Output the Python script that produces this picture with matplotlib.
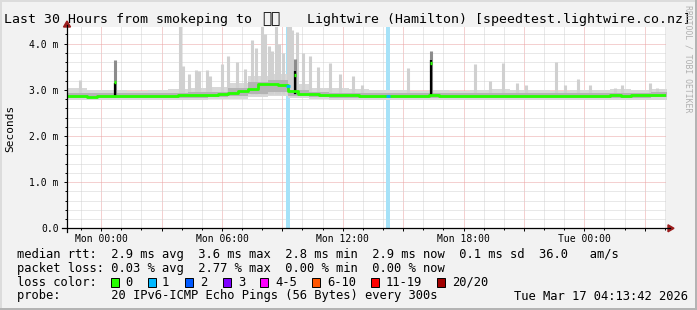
"""Smokeping style latency chart: last 30 hours to Lightwire (Hamilton)."""

import matplotlib

matplotlib.use("Agg")

import matplotlib.pyplot as plt
import numpy as np
from matplotlib.lines import Line2D
from matplotlib.patches import Polygon, Rectangle
from matplotlib.ticker import FixedLocator, MultipleLocator

W, H = 697, 310
MONO = "DejaVu Sans Mono"

# time axis in hours relative to Mon 00:00
T_START, T_END = -1.70, 28.06
MEDIAN_STEP = 0.5
SMOKE_STEP = 1.0

# median rtt (ms), one value per half hour from T_START
median_ms = [
    2.86, 2.86, 2.85, 2.86, 2.86, 2.87, 2.87, 2.86, 2.87, 2.87,
    2.87, 2.88, 2.88, 2.89, 2.89, 2.91, 2.93, 2.98, 3.02, 3.12,
    3.13, 3.11, 2.97, 2.91, 2.90, 2.89, 2.89, 2.88, 2.88, 2.87,
    2.87, 2.87, 2.87, 2.86, 2.87, 2.87, 2.88, 2.87, 2.87, 2.87,
    2.86, 2.87, 2.87, 2.87, 2.86, 2.86, 2.87, 2.86, 2.86, 2.87,
    2.86, 2.87, 2.87, 2.87, 2.88, 2.87, 2.88, 2.88, 2.88, 2.89,
    2.89,
]

# smoke envelope (ms), one value per hour from T_START
smoke_lo = [
    2.79, 2.79, 2.79, 2.79, 2.79, 2.79, 2.79, 2.80, 2.81, 2.84,
    2.86, 2.82, 2.80, 2.79, 2.79, 2.79, 2.79, 2.79, 2.79, 2.79,
    2.79, 2.79, 2.79, 2.79, 2.79, 2.79, 2.79, 2.79, 2.79, 2.79, 2.79,
]
smoke_hi = [
    3.03, 3.00, 3.00, 2.98, 3.00, 3.02, 3.05, 3.06, 3.15, 3.30,
    3.35, 3.12, 3.05, 3.05, 3.02, 3.00, 3.00, 2.98, 3.00, 2.98,
    3.00, 3.02, 3.00, 3.00, 2.98, 3.00, 3.00, 3.02, 3.00, 3.02, 3.02,
]
core_lo = [
    2.82, 2.82, 2.82, 2.83, 2.83, 2.83, 2.83, 2.84, 2.86, 2.90,
    2.95, 2.86, 2.84, 2.83, 2.83, 2.83, 2.82, 2.83, 2.83, 2.82,
    2.82, 2.83, 2.82, 2.82, 2.82, 2.83, 2.83, 2.83, 2.83, 2.84, 2.84,
]
core_hi = [
    2.94, 2.93, 2.94, 2.93, 2.94, 2.94, 2.95, 2.96, 3.03, 3.18,
    3.22, 3.00, 2.95, 2.94, 2.94, 2.93, 2.93, 2.93, 2.94, 2.93,
    2.93, 2.94, 2.93, 2.93, 2.93, 2.93, 2.94, 2.94, 2.94, 2.95, 2.95,
]

# single-step smoke spikes (hour, top in ms)
spike_hours = [
    -1.05, 3.92, 4.07, 4.36, 4.71, 4.86, 5.26, 5.40, 6.00, 6.30,
    6.75, 7.14, 7.49, 7.69, 7.99, 8.14, 8.34, 8.49, 8.68, 8.83,
    9.03, 9.27, 9.40, 9.50, 9.73, 10.02, 10.37, 10.77, 11.37, 11.86,
    12.51, 12.95, 15.24, 18.57, 19.31, 19.96, 20.66, 21.10, 22.59, 23.04,
    23.68, 24.28, 25.52, 25.87, 27.26, 27.61,
]
spike_tops = [
    3.22, 4.40, 3.51, 3.35, 3.44, 3.40, 3.44, 3.30, 3.55, 3.73,
    3.60, 3.45, 4.09, 3.90, 4.40, 4.20, 3.95, 3.85, 4.40, 4.00,
    3.80, 4.40, 4.40, 4.30, 4.25, 3.80, 3.73, 3.50, 3.59, 3.35,
    3.30, 3.10, 3.48, 3.55, 3.20, 3.59, 3.15, 3.10, 3.60, 3.10,
    3.24, 3.10, 3.05, 3.10, 3.15, 3.05,
]

# short latency bursts where the median itself jumps
event_hours = [0.69, 9.63, 16.38]
event_base = [2.86, 2.90, 2.88]
event_black_tops = [3.15, 3.40, 3.65]
event_dark_tops = [3.64, 3.66, 3.84]
event_medians = [3.16, 3.33, 3.58]

# intervals with 1 lost ping
loss_start = [9.19, 14.16]
loss_end = [9.36, 14.33]
loss_median = [3.08, 2.87]

y_major = [0, 1, 2, 3, 4]
y_labels = ["0.0", "1.0 m", "2.0 m", "3.0 m", "4.0 m"]
x_major = [0, 3, 6, 9, 12, 15, 18, 21, 24, 27]
x_labels = {0: "Mon 00:00", 6: "Mon 06:00", 12: "Mon 12:00",
            18: "Mon 18:00", 24: "Tue 00:00"}

rtt_stats = ["2.9 ms avg", "3.6 ms max", "2.8 ms min", "2.9 ms now", "0.1 ms sd"]
loss_stats = ["0.03 % avg", "2.77 % max", "0.00 % min", "0.00 % now"]
loss_labels = ["0", "1", "2", "3", "4-5", "6-10", "11-19", "20/20"]
loss_colors = ["#26ff00", "#00b8ff", "#0059ff", "#7e00ff",
               "#ff00ff", "#ff5500", "#ff0000", "#a10000"]
loss_swatch_x = [110.5, 148, 185, 223, 260, 312, 371, 437]
loss_label_x = [125, 162, 200, 238, 275, 327, 386, 452]


def fx(x):
    return x / W


def fy(y):
    return 1 - y / H


fig = plt.figure(figsize=(W / 100, H / 100), dpi=100)
fig.patch.set_facecolor("#f2f2f2")

ax_left, ax_right, ax_top, ax_bottom = 67, 666, 27, 228.3
ax = fig.add_axes([fx(ax_left), fy(ax_bottom),
                   (ax_right - ax_left) / W, (ax_bottom - ax_top) / H])
ax.set_facecolor("white")
ax.set_xlim(T_START, T_END)
ax.set_ylim(0, (ax_bottom - ax_top) / 46.15)
for sp in ax.spines.values():
    sp.set_visible(False)

# grid
ax.xaxis.set_major_locator(FixedLocator(x_major))
ax.xaxis.set_minor_locator(MultipleLocator(1))
ax.yaxis.set_major_locator(FixedLocator(y_major))
ax.yaxis.set_minor_locator(MultipleLocator(0.2))
ax.set_xticklabels([x_labels.get(h, "") for h in x_major])
ax.set_yticklabels(y_labels)
ax.set_axisbelow(True)
ax.grid(which="minor", color="#d2d2d2", linestyle=(0, (1, 1)), lw=0.72)
ax.grid(which="major", color="#eba3a3", linestyle=(0, (1, 1)), lw=0.72)
ax.tick_params(which="major", length=2.5, width=0.7, direction="out",
               labelsize=7.05, pad=1.5)
ax.tick_params(which="minor", length=1.5, width=0.7, direction="out")
ax.tick_params(axis="y", pad=3.5)
for lab in ax.get_xticklabels() + ax.get_yticklabels():
    lab.set_fontfamily(MONO)

# loss bars
for s, e in zip(loss_start, loss_end):
    ax.axvspan(s, e, color="#a6e2f8", lw=0, zorder=1)

# smoke
t_smoke = T_START + SMOKE_STEP * np.arange(len(smoke_hi))
ax.fill_between(t_smoke, smoke_lo, smoke_hi, step="post",
                color="#d8d8d8", lw=0, zorder=2)
ax.vlines(spike_hours, 2.9, spike_tops, colors="#d0d0d0", lw=2.2, zorder=2)
ax.fill_between(t_smoke, core_lo, core_hi, step="post",
                color="#b4b4b4", lw=0, zorder=3)
ax.vlines(event_hours, event_base, event_dark_tops, colors="#8c8c8c",
          lw=2.2, zorder=3)
ax.vlines(event_hours, event_base, event_black_tops, colors="black",
          lw=1.6, zorder=4)

# median
t_med = T_START + MEDIAN_STEP * np.arange(len(median_ms))
ax.step(t_med, median_ms, where="post", color="#26ff00", lw=2.0, zorder=5)
ax.hlines(event_medians, np.array(event_hours) - 0.06,
          np.array(event_hours) + 0.06, colors="#26ff00", lw=2.4, zorder=6)
ax.hlines(loss_median, loss_start, loss_end, colors="#00b8ff", lw=2.0, zorder=6)

# axis lines with arrows
axis_red = "#9b1c1c"
fig.add_artist(Line2D([fx(62), fx(670)], [fy(ax_bottom), fy(ax_bottom)],
                      color="black", lw=0.9))
fig.add_artist(Line2D([fx(ax_left), fx(ax_left)], [fy(232), fy(25)],
                      color="black", lw=0.9))
fig.add_artist(Polygon([(fx(668), fy(224.8)), (fx(668), fy(231.8)),
                        (fx(674), fy(228.3))], closed=True, color=axis_red))
fig.add_artist(Polygon([(fx(63.5), fy(27)), (fx(70.5), fy(27)),
                        (fx(67), fy(21))], closed=True, color=axis_red))

# frame shading
fig.add_artist(Rectangle((0, 0), fx(2), 1, color="#dcdcdc", lw=0))
fig.add_artist(Rectangle((0, fy(2)), 1, 2 / H, color="#dcdcdc", lw=0))
fig.add_artist(Rectangle((fx(W - 2), 0), fx(2), 1, color="#b4b4b4", lw=0))
fig.add_artist(Rectangle((0, 0), 1, 2 / H, color="#b4b4b4", lw=0))

# title (the flag is a regional-indicator pair that no installed font draws)
fig.text(fx(4), fy(19), "Last 30 Hours from smokeping to", family=MONO,
         fontsize=9.5, va="center", ha="left")
fig.text(fx(262), fy(19), "\U0001F1F3\U0001F1FF", family=MONO,
         fontsize=11, va="center", ha="left")
fig.text(fx(307), fy(19), "Lightwire (Hamilton) [speedtest.lightwire.co.nz]",
         family=MONO, fontsize=9.5, va="center", ha="left")

# axis title and credits
fig.text(fx(10), fy(128), "Seconds", family=MONO, fontsize=8,
         rotation=90, va="center", ha="center")
fig.text(fx(688), fy(5), "RRDTOOL / TOBI OETIKER", family=MONO, fontsize=5.9,
         rotation=270, va="top", ha="center", color="#b0b0b0")

# legend
leg_x, leg_size = 16.7, 8.7
rtt_line = "median rtt:  " + "  ".join(rtt_stats) + "  36.0   am/s"
loss_line = "packet loss: " + "  ".join(loss_stats)
probe_line = "probe:       20 IPv6-ICMP Echo Pings (56 Bytes) every 300s"
fig.text(fx(leg_x), fy(254.5), rtt_line, family=MONO, fontsize=leg_size, va="center")
fig.text(fx(leg_x), fy(268.3), loss_line, family=MONO, fontsize=leg_size, va="center")
fig.text(fx(leg_x), fy(282.2), "loss color:", family=MONO, fontsize=leg_size,
         va="center")
for sx, lx, lab, col in zip(loss_swatch_x, loss_label_x, loss_labels, loss_colors):
    fig.add_artist(Rectangle((fx(sx), fy(286.5)), 8 / W, 8.5 / H,
                             facecolor=col, edgecolor="black", lw=0.7))
    fig.text(fx(lx), fy(282.2), lab, family=MONO, fontsize=leg_size, va="center")
fig.text(fx(leg_x), fy(296), probe_line, family=MONO, fontsize=leg_size, va="center")
fig.text(fx(688), fy(296), "Tue Mar 17 04:13:42 2026", family=MONO,
         fontsize=leg_size, va="center", ha="right")

fig.savefig("out.png", dpi=100, facecolor=fig.get_facecolor())
